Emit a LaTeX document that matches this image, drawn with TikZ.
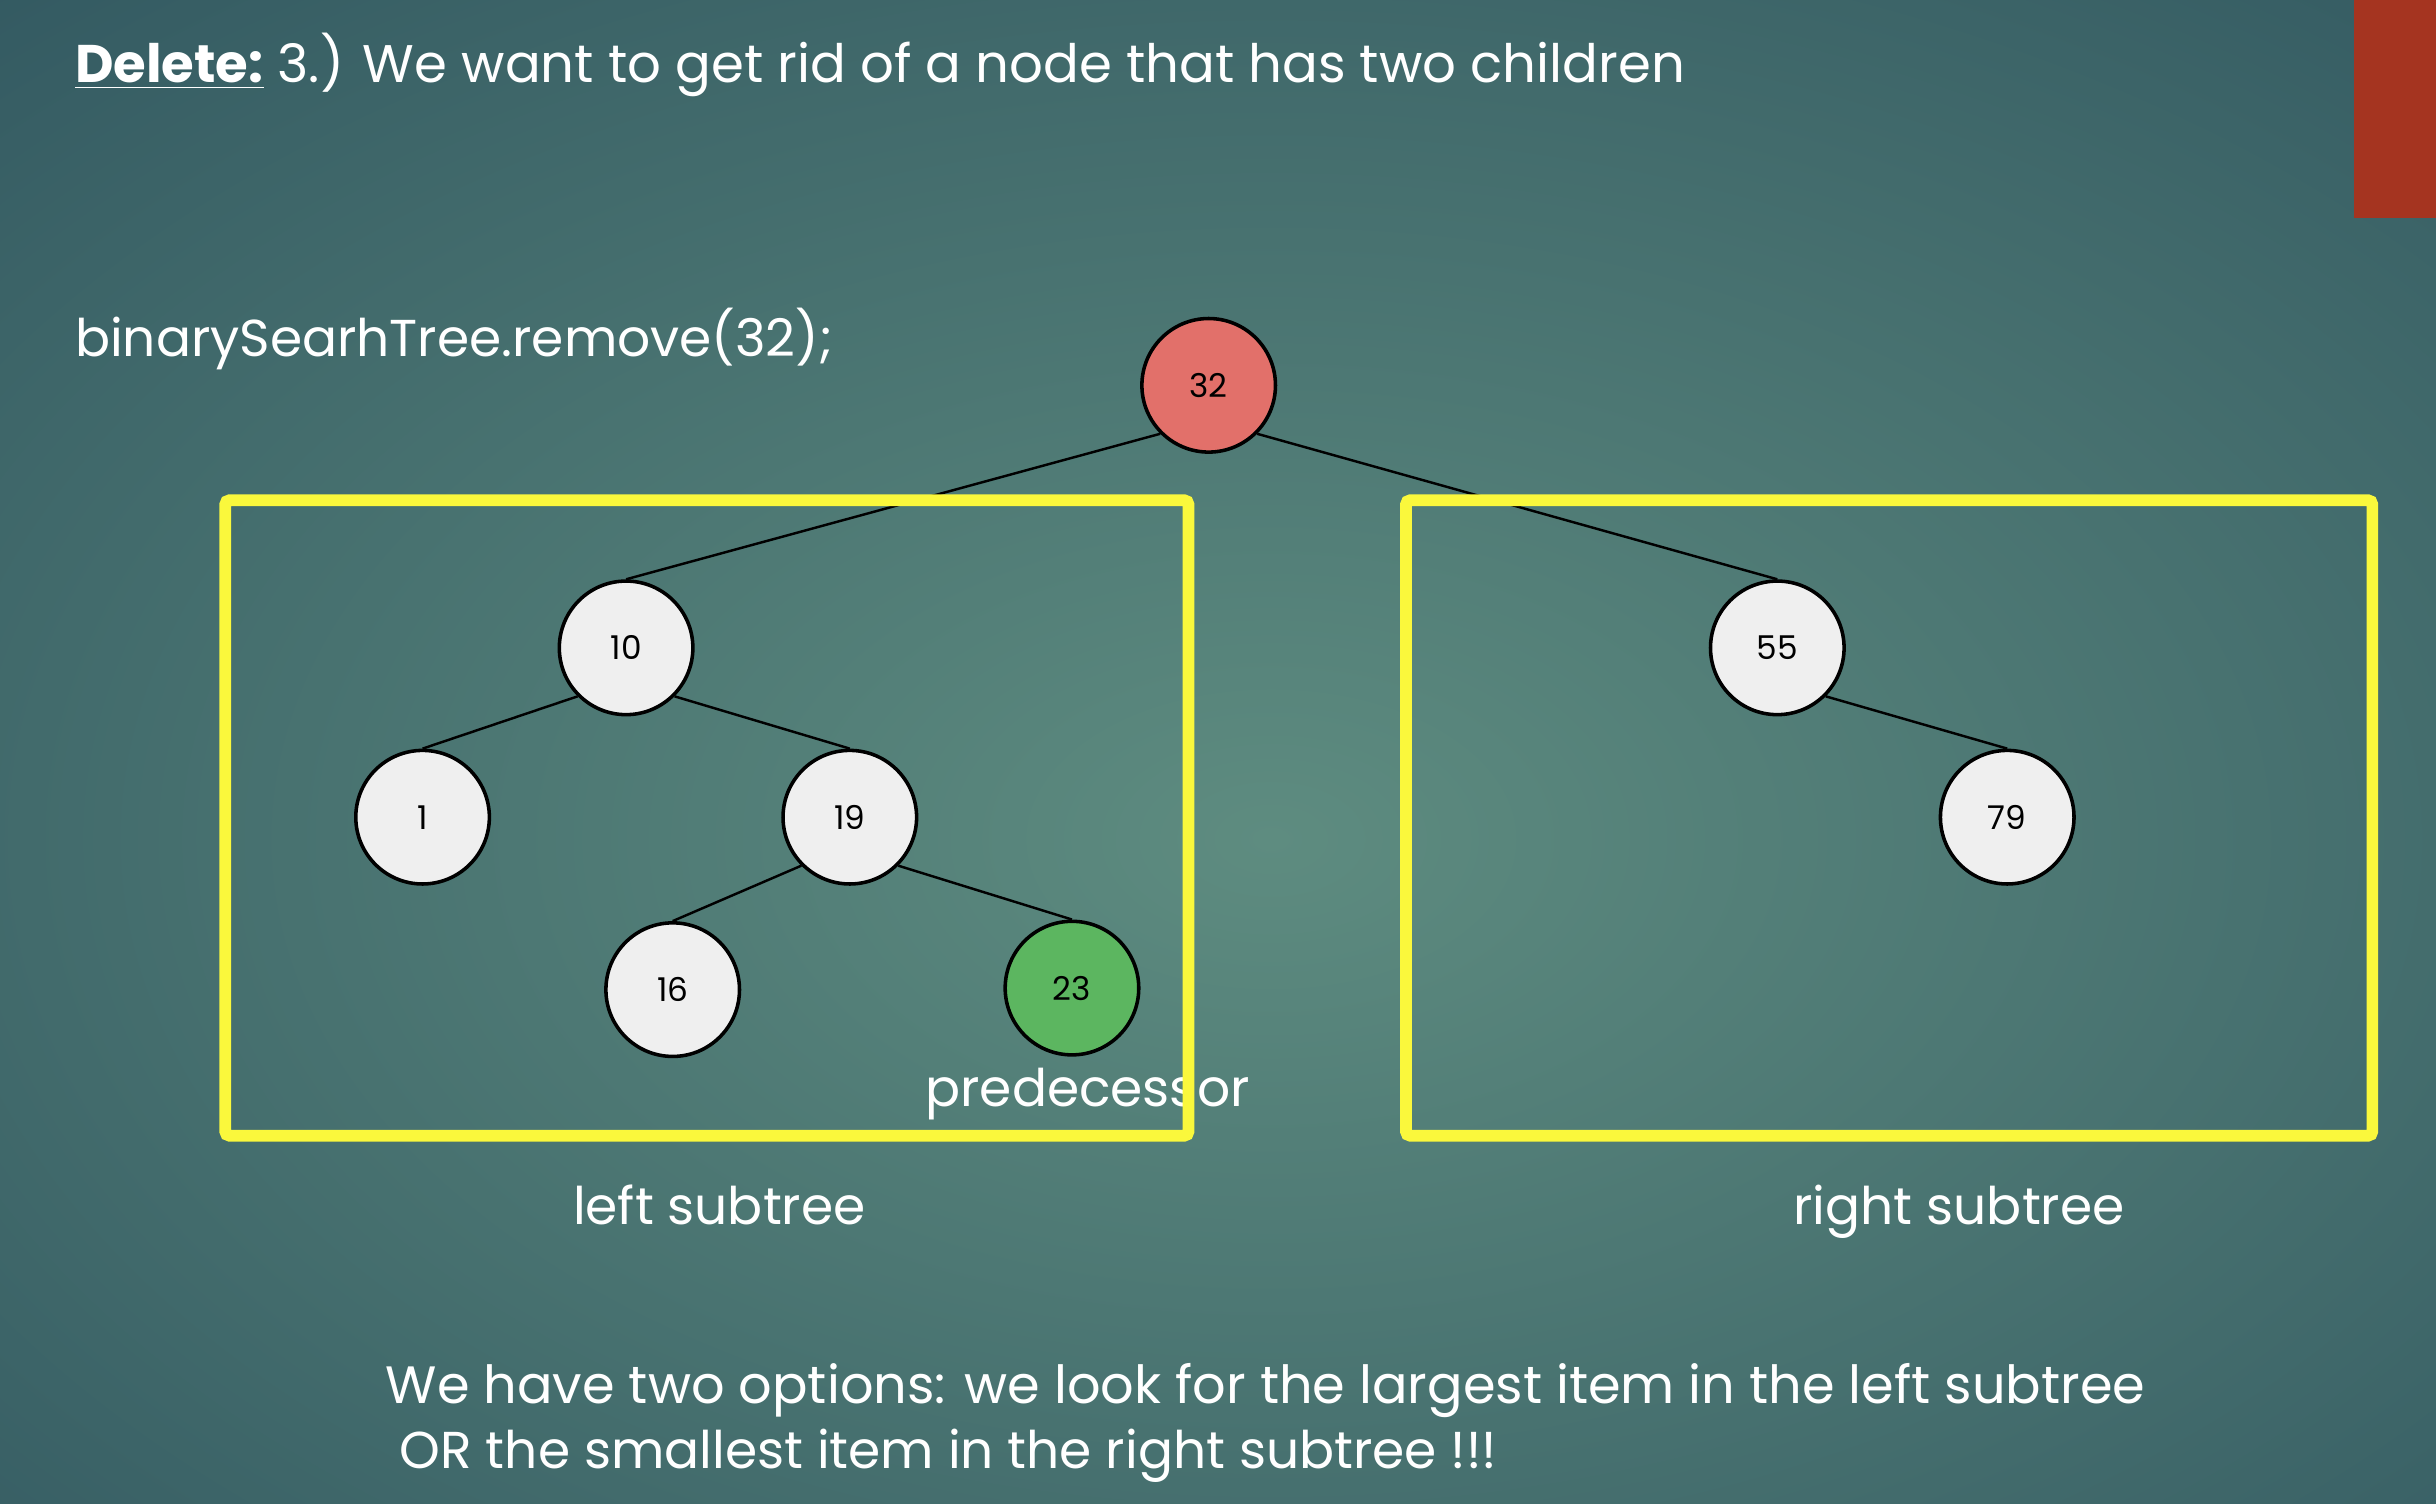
\documentclass[tikz,border=0pt]{standalone}
\usepackage{fontspec}
\setmainfont{Poppins}
\usetikzlibrary{positioning}
\definecolor{bginner}{RGB}{94,140,128}
\definecolor{bgouter}{RGB}{38,74,88}
\definecolor{cornerred}{RGB}{165,52,32}
\definecolor{nodegray}{RGB}{239,239,239}
\definecolor{rootred}{RGB}{226,112,106}
\definecolor{predgreen}{RGB}{92,182,96}
\definecolor{boxyellow}{RGB}{250,248,60}

\begin{document}
\begin{tikzpicture}[x=0.02cm,y=-0.02cm,
  bstnode/.style={circle,draw=black,line width=1.3pt,fill=nodegray,minimum size=1.72cm,inner sep=0pt,font=\fontsize{12}{14}\selectfont},
  treeedge/.style={line width=0.9pt},
  subbox/.style={draw=boxyellow,line width=0.15cm,rounded corners=1.5pt},
  slidetext/.style={text=white,inner sep=0pt,font=\fontsize{19}{23}\selectfont}]
\useasboundingbox (0,0) rectangle (1568,968);
\begin{scope}
\clip (0,0) rectangle (1568,968);
\shade[inner color=bginner,outer color=bgouter] (-784,-440) rectangle (2420,1520);
\end{scope}
\fill[cornerred] (1515,-5) rectangle (1575,140);
% tree
\node[bstnode,fill=rootred] (n32) at (778,248) {32};
\node[bstnode] (n10) at (403,417) {10};
\node[bstnode] (n1) at (272,526) {1};
\node[bstnode] (n19) at (547,526) {19};
\node[bstnode] (n16) at (433,637) {16};
\node[bstnode,fill=predgreen] (n23) at (690,636) {23};
\node[bstnode] (n55) at (1144,417) {55};
\node[bstnode] (n79) at (1292,526) {79};
\draw[treeedge] (n32.south west)--(n10.north); \draw[treeedge] (n32.south east)--(n55.north);
\draw[treeedge] (n10.south west)--(n1.north); \draw[treeedge] (n10.south east)--(n19.north);
\draw[treeedge] (n19.south west)--(n16.north); \draw[treeedge] (n19.south east)--(n23.north);
\draw[treeedge] (n55.south east)--(n79.north);
% texts
\node[slidetext,anchor=west,font=\fontsize{19.4}{23}\selectfont] (title) at (48,42) {\underline{\textbf{Delete:}} 3.) We want to get rid of a node that has two children};
\node[slidetext,anchor=west] (call) at (48,218) {binarySearhTree.remove(32);};
\node[slidetext,anchor=base] (pred) at (700,712) {predecessor};
\node[slidetext,anchor=base] (lefttext) at (463,788) {left subtree};
\node[slidetext,anchor=base] (righttext) at (1261,788) {right subtree};
\node[slidetext,anchor=west,font=\fontsize{19.25}{23}\selectfont] (opt1) at (248,895) {We have two options: we look for the largest item in the left subtree};
\node[slidetext,anchor=west] (opt2) at (257,937) {OR the smallest item in the right subtree !!!};
% subtree boxes
\draw[subbox] (145,322) rectangle (765,731);
\draw[subbox] (905,322) rectangle (1527,731);
\end{tikzpicture}
\end{document}
